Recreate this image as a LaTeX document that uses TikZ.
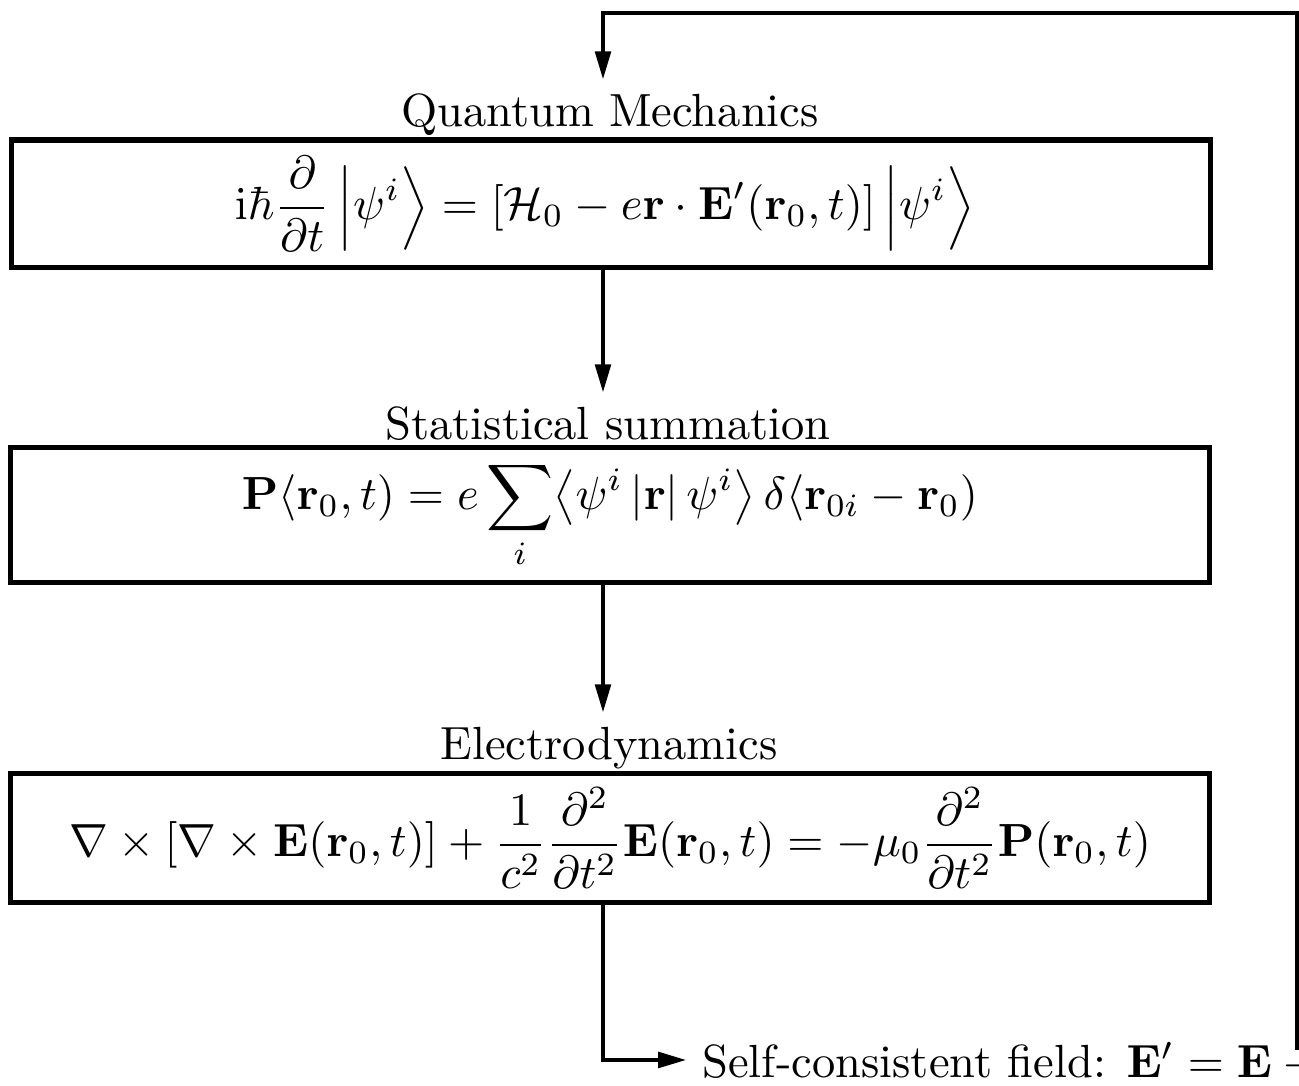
\documentclass[tikz,border=0pt]{standalone}
\usepackage{amsmath}
\usepackage{tikz}
\usetikzlibrary{arrows.meta,positioning,calc}
\tikzset{>={Triangle[length=6pt,width=3.4pt]},
  eqbox/.style={draw,line width=1.1pt,minimum width=257.6pt,inner sep=0pt,align=center},
  head/.style={inner sep=3pt},
  flow/.style={->,line width=0.7pt}}

\begin{document}
\begin{tikzpicture}[x=0.215pt,y=-0.215pt]
  \useasboundingbox (0,0) rectangle (1299,1086);
  \clip (0,0) rectangle (1299,1086);
  \node[head] (qm) at (610,115) {Quantum Mechanics};
  \node[eqbox,minimum height=27.5pt] (qmbox) at (611,204)
    {$\displaystyle \mathrm{i}\hbar\frac{\partial}{\partial t}\,\Bigl|\psi^i\Bigr\rangle
      =[\mathcal{H}_0-e\mathbf{r}\cdot\mathbf{E}'(\mathbf{r}_0,t)]\,\Bigl|\psi^i\Bigr\rangle$\hspace{2.6pt}};
  \node[head] (ss) at (608,424) {Statistical summation};
  \node[eqbox,minimum height=29.2pt] (ssbox) at (610,515)
    {$\displaystyle \mathbf{P}\langle\mathbf{r}_0,t)=e\sum_i\bigl\langle\psi^i\,|\mathbf{r}|\,\psi^i\bigr\rangle\,
      \delta\langle\mathbf{r}_{0i}-\mathbf{r}_0)$};
  \node[head] (ed) at (609,748) {Electrodynamics};
  \node[eqbox,minimum height=27.7pt] (edbox) at (610,838)
    {$\displaystyle \nabla\times[\nabla\times\mathbf{E}(\mathbf{r}_0,t)]
      +\frac{1}{c^2}\frac{\partial^2}{\partial t^2}\mathbf{E}(\mathbf{r}_0,t)
      =-\mu_0\frac{\partial^2}{\partial t^2}\mathbf{P}(\mathbf{r}_0,t)$};
  \node[anchor=west,text depth=0pt] (sc) at (686,1060)
    {Self-consistent field: $\mathbf{E}'=\mathbf{E}-{}$};
  \coordinate (axis) at (603,0);
  \coordinate (fbr) at (1297,1050);
  \coordinate (fbt) at (1297,13);
  \draw[flow] (qmbox.south -| axis) -- (ss.north -| axis);
  \draw[flow] (ssbox.south -| axis) -- (ed.north -| axis);
  \draw[flow] (edbox.south -| axis) |- (sc.west);
  \draw[flow] (fbr) -- (fbt) -| (qm.north -| axis);
\end{tikzpicture}
\end{document}
